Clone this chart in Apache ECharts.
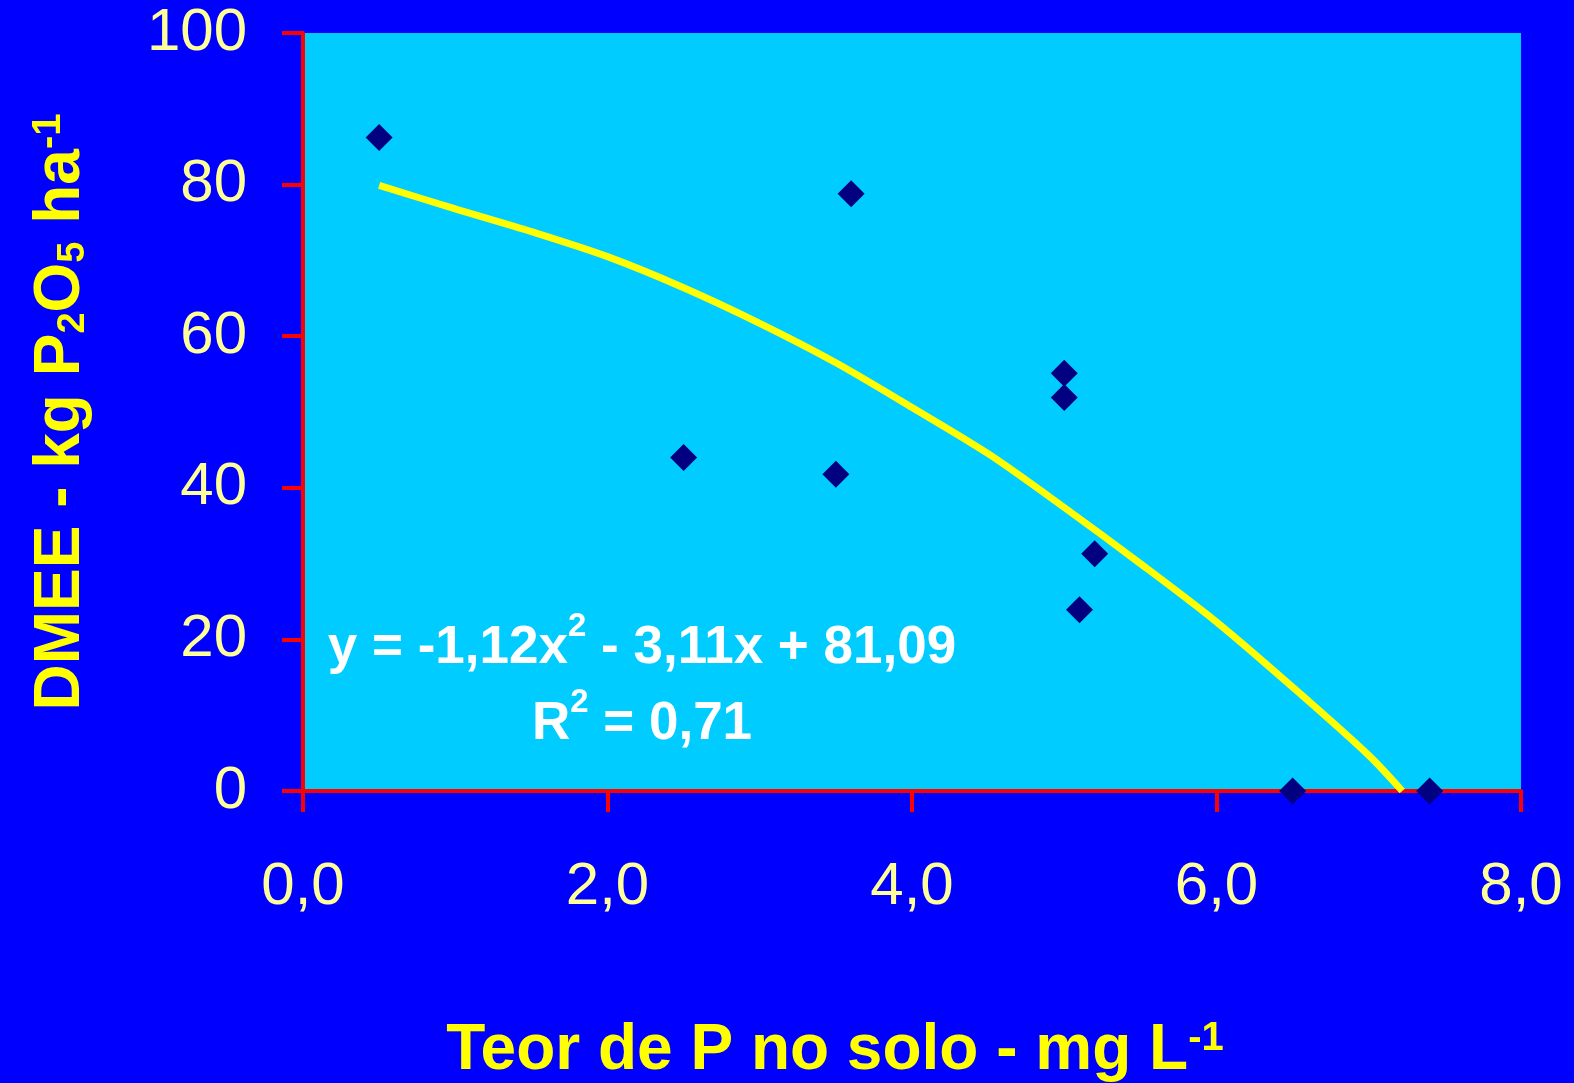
<!DOCTYPE html>
<html>
<head>
<meta charset="utf-8">
<style>
html, body { margin: 0; padding: 0; background: #0000ff; }
#main { width: 1574px; height: 1083px; }
</style>
<script src="https://cdn.jsdelivr.net/npm/echarts@6/dist/echarts.min.js"></script>
</head>
<body>
<div id="main"></div>
<script>
// observed points: soil P (mg/L) vs DMEE (kg P2O5/ha)
const soilP = [0.5, 3.6, 2.5, 3.5, 5.0, 5.0, 5.2, 5.1, 6.5, 7.4];
const dmee = [86.2, 78.8, 44.0, 41.8, 55.1, 51.9, 31.3, 23.9, 0, 0];

// fitted curve
const fitX = [0.5, 1.0, 1.5, 2.0, 2.5, 3.0, 3.5, 4.0, 4.5, 5.0, 5.5, 6.0, 6.5, 7.0, 7.22];
const fitY = [79.9, 76.8, 73.8, 70.5, 66.4, 61.7, 56.5, 50.6, 44.5, 37.4, 30.0, 22.3, 13.7, 4.7, 0];

const xTickLabels = ['0,0', '2,0', '4,0', '6,0', '8,0'];
const yTickLabels = ['0', '20', '40', '60', '80', '100'];

const font = "'Liberation Sans', Arial, sans-serif";
const red = '#ff0000';

const chart = echarts.init(document.getElementById('main'));

const axisCommon = {
    type: 'value',
    splitLine: { show: false },
    axisLine: { show: true, onZero: false, lineStyle: { color: red, width: 4 } },
    axisTick: { show: true, length: 21, lineStyle: { color: red, width: 4 } },
};

const option = {
    backgroundColor: '#0000ff',
    animation: false,
    grid: {
        left: 303, top: 33, right: 53, bottom: 292,
        show: true, backgroundColor: '#00ccff', borderWidth: 0,
        containLabel: false, outerBoundsMode: 'none'
    },
    xAxis: {
        ...axisCommon,
        min: 0, max: 8, interval: 2,
        axisLabel: {
            color: '#ffff99', fontSize: 60, fontFamily: font, margin: 66,
            formatter: (v) => xTickLabels[Math.round(v / 2)]
        },
        name: '{t|Teor de P no solo - mg L}{sup|-1}',
        nameLocation: 'middle',
        nameGap: 228,
        nameTextStyle: {
            padding: [0, 154, 0, 0],
            rich: {
                t: { color: '#ffff00', fontSize: 64, fontWeight: 'bold', fontFamily: font },
                sup: { color: '#ffff00', fontSize: 40, fontWeight: 'bold', fontFamily: font, verticalAlign: 'top', padding: [0, 0, 10, 0] }
            }
        }
    },
    yAxis: {
        ...axisCommon,
        min: 0, max: 100, interval: 20,
        axisLabel: {
            color: '#ffff99', fontSize: 60, fontFamily: font, margin: 56,
            padding: [6, 0, 0, 0],
            formatter: (v) => yTickLabels[Math.round(v / 20)]
        },
        name: '{t|DMEE - kg P}{sub|2}{t|O}{sub|5}{t| ha}{sup|-1}',
        nameLocation: 'middle',
        nameRotate: 90,
        nameGap: 210,
        nameTextStyle: {
            rich: {
                t: { color: '#ffff00', fontSize: 64, fontWeight: 'bold', fontFamily: font },
                sub: { color: '#ffff00', fontSize: 38, fontWeight: 'bold', fontFamily: font, verticalAlign: 'bottom' },
                sup: { color: '#ffff00', fontSize: 40, fontWeight: 'bold', fontFamily: font, verticalAlign: 'top' }
            }
        }
    },
    graphic: [{
        type: 'text',
        x: 642, y: 686,
        z: 100,
        style: {
            text: '{a|y = -1,12x}{s|2}{a| - 3,11x + 81,09}\n{a|R}{s|2}{a| = 0,71}',
            align: 'center',
            verticalAlign: 'middle',
            rich: {
                a: { fill: '#ffffff', fontSize: 53, fontWeight: 'bold', fontFamily: font, lineHeight: 76 },
                s: { fill: '#ffffff', fontSize: 33, fontWeight: 'bold', fontFamily: font, verticalAlign: 'top', lineHeight: 70 }
            }
        }
    }],
    series: [
        {
            type: 'line',
            data: fitX.map((x, i) => [x, fitY[i]]),
            showSymbol: false,
            smooth: 0.3,
            lineStyle: { color: '#ffff00', width: 7 },
            z: 2
        },
        {
            type: 'scatter',
            data: soilP.map((x, i) => [x, dmee[i]]),
            symbol: 'diamond',
            symbolSize: 27,
            itemStyle: { color: '#000080', opacity: 1 },
            clip: false,
            z: 3
        }
    ]
};

chart.setOption(option);
</script>
</body>
</html>
